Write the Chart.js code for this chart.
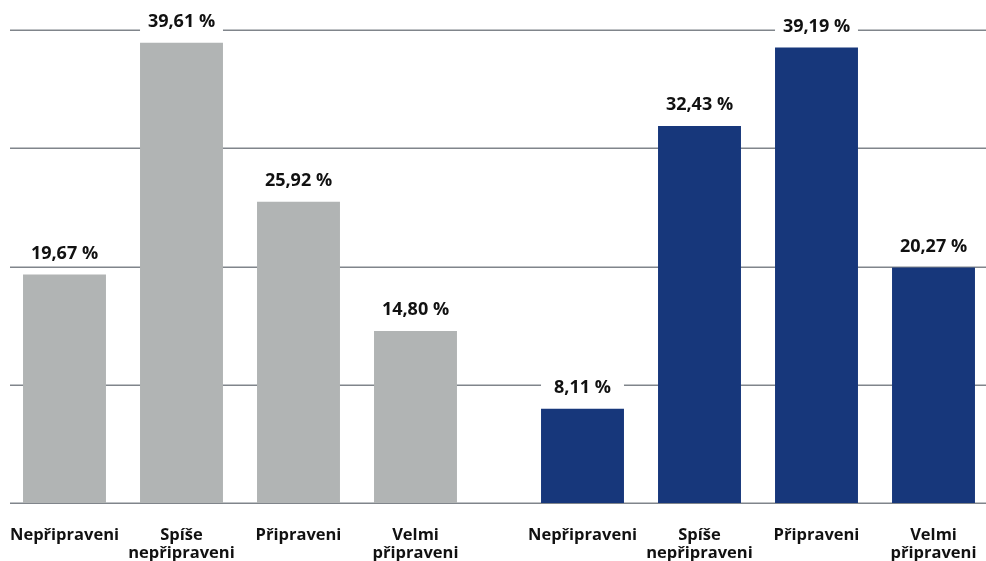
<!DOCTYPE html>
<html>
<head>
<meta charset="utf-8">
<script src="https://cdn.jsdelivr.net/npm/chart.js@4"></script>
<style>
  html, body { margin: 0; padding: 0; background: #ffffff; overflow: hidden; }
  #wrap { position: relative; width: 986px; height: 561px; overflow: hidden; }
  .pane { position: absolute; top: 0; height: 561px; }
  #paneA { left: 0; width: 499px; }
  #paneB { left: 499px; width: 493px; }
</style>
</head>
<body>
<div id="wrap">
  <div class="pane" id="paneA"><canvas id="chartA" width="499" height="561"></canvas></div>
  <div class="pane" id="paneB"><canvas id="chartB" width="493" height="561"></canvas></div>
</div>
<script>
// ---- data ----
const categories = [["Nepřipraveni"], ["Spíše", "nepřipraveni"], ["Připraveni"], ["Velmi", "připraveni"]];
const groupAValues = [19.67, 39.61, 25.92, 14.80];
const groupBValues = [8.11, 32.43, 39.19, 20.27];
const yMax = 40.7;
const gridIntervals = 4;

// ---- styles ----
const FONT = "'Open Sans', 'Noto Sans', sans-serif";
const GRAY = '#b1b4b4';
const BLUE = '#17377b';
const GRID = '#80858b';
const TEXT = '#111111';

function fmt(v) { return v.toFixed(2).replace('.', ',') + ' %'; }

const fullGridPlugin = {
  id: 'fullGrid',
  beforeDatasetsDraw(chart, args, opts) {
    const ctx = chart.ctx;
    const y = chart.scales.y;
    ctx.save();
    ctx.strokeStyle = GRID;
    ctx.lineWidth = 1.5;
    y.ticks.forEach(t => {
      const py = Math.round(y.getPixelForValue(t.value)) + 0.25;
      ctx.beginPath();
      ctx.moveTo(opts.start || 0, py);
      ctx.lineTo(chart.width, py);
      ctx.stroke();
    });
    ctx.restore();
  }
};

const valueLabelPlugin = {
  id: 'valueLabels',
  afterDatasetsDraw(chart) {
    const ctx = chart.ctx;
    const meta = chart.getDatasetMeta(0);
    const data = chart.data.datasets[0].data;
    ctx.save();
    meta.data.forEach((bar, i) => {
      const w = bar.width;
      ctx.fillStyle = '#ffffff';
      ctx.fillRect(bar.x - w / 2, bar.y - 32, w, 21);
      ctx.fillStyle = TEXT;
      ctx.font = 'bold 18px ' + FONT;
      ctx.textAlign = 'center';
      ctx.textBaseline = 'middle';
      ctx.fillText(fmt(data[i]), bar.x, bar.y - 21);
    });
    ctx.restore();
  }
};

function makeChart(id, values, color, padLeft, padRight, gridStart) {
  return new Chart(document.getElementById(id), {
    type: 'bar',
    data: {
      labels: categories,
      datasets: [{
        data: values,
        backgroundColor: color,
        borderWidth: 0,
        barPercentage: 0.709,
        categoryPercentage: 1.0
      }]
    },
    options: {
      responsive: false,
      animation: false,
      devicePixelRatio: 1,
      layout: { padding: { left: padLeft, right: padRight, top: 30, bottom: 0 } },
      plugins: {
        legend: { display: false },
        tooltip: { enabled: false },
        fullGrid: { start: gridStart }
      },
      scales: {
        x: {
          grid: { display: false, drawTicks: false },
          border: { display: false },
          ticks: {
            color: TEXT,
            font: { family: FONT, size: 16.5, weight: 'bold', lineHeight: 1.1 },
            padding: 23,
            maxRotation: 0,
            autoSkip: false
          },
          afterFit(scale) { scale.height = 58; scale.paddingLeft = 0; scale.paddingRight = 0; }
        },
        y: {
          display: true,
          min: 0,
          max: yMax,
          grid: { display: false, drawTicks: false },
          border: { display: false },
          ticks: { display: false, stepSize: yMax / gridIntervals },
          afterFit(scale) { scale.width = 0; }
        }
      }
    },
    plugins: [fullGridPlugin, valueLabelPlugin]
  });
}

makeChart('chartA', groupAValues, GRAY, 6, 25, 10);
makeChart('chartB', groupBValues, BLUE, 25, 0, 0);
</script>
</body>
</html>
